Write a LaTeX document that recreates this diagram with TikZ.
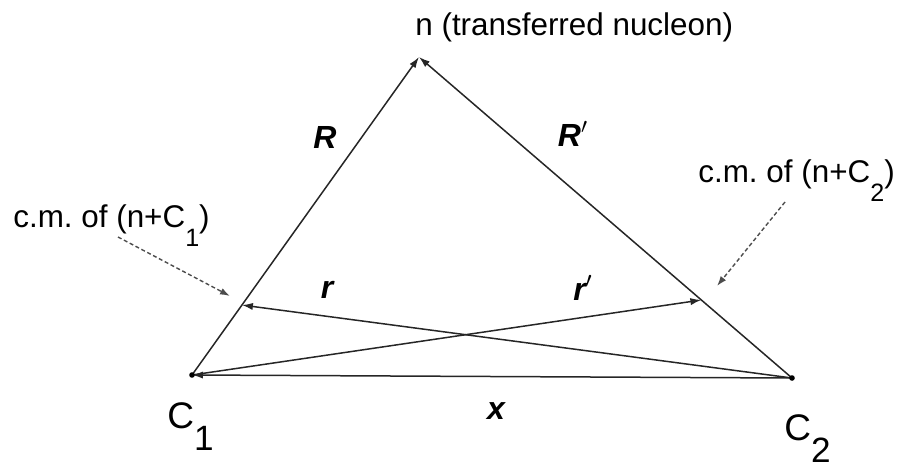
\documentclass[tikz,border=0pt]{standalone}
\usepackage{fontspec}
\setmainfont{Liberation Sans}
\usetikzlibrary{arrows.meta,calc}
\newcommand{\lowsub}[2][1]{\raisebox{-0.62em}{\scalebox{#1}{#2}}}

\begin{document}
\begin{tikzpicture}[x=0.5pt, y=0.5pt, font=\fontsize{15.7}{19}\selectfont,
  vec/.style={draw=black!85, line width=0.75pt, -{Latex[length=5.5pt,width=3.6pt]}},
  cmarrow/.style={draw=black!70, line width=0.7pt, dash pattern=on 2pt off 1.3pt, -{Latex[length=5pt,width=3.4pt]}},
  lab/.style={font=\fontsize{16}{19}\selectfont\bfseries\itshape},
  txt/.style={anchor=base west, inner sep=0pt},
  big/.style={txt, font=\fontsize{18.5}{22}\selectfont}]
  \useasboundingbox (0,0) rectangle (899,468);
  \coordinate (C1) at (192,93);
  \coordinate (C2) at (792,90);
  \coordinate (n) at (419,411);
  \coordinate (cm1) at ($(C1)!0.22!(n)$);
  \coordinate (cm2) at ($(C2)!0.243!(n)$);
  \draw[vec] (C1) -- (n);
  \draw[vec] (C2) -- (n);
  \draw[vec] (C2) -- (C1);
  \draw[vec] (C2) -- (cm1);
  \draw[vec] (C1) -- (cm2);
  \fill (C1) circle (1.4pt);
  \fill (C2) circle (1.4pt);
  \node[txt] (ntext) at (415,433) {n (transferred nucleon)};
  \node[lab] (Rlab) at (325,331) {R};
  \node[lab] (Rplab) at (573,334) {R$'$};
  \node[lab] (rlab) at (327,178) {r};
  \node[lab] (rplab) at (583,180) {r$'$};
  \node[lab] (xlab) at (496,57) {x};
  \node[big] (C1lab) at (167,40) {C\lowsub[0.95]{1}};
  \node[big] (C2lab) at (784,28) {C\lowsub[0.95]{2}};
  \node[txt] (cm1lab) at (13,241) {c.m.\ of (n+C\lowsub[0.8]{1})};
  \node[txt] (cm2lab) at (698,286) {c.m.\ of (n+C\lowsub[0.8]{2})};
  \coordinate (cm1tail) at (118,231);
  \coordinate (cm1tip) at (230,172);
  \coordinate (cm2tail) at (785,266);
  \coordinate (cm2tip) at (717,182);
  \draw[cmarrow] (cm1tail) -- (cm1tip);
  \draw[cmarrow] (cm2tail) -- (cm2tip);
\end{tikzpicture}
\end{document}
